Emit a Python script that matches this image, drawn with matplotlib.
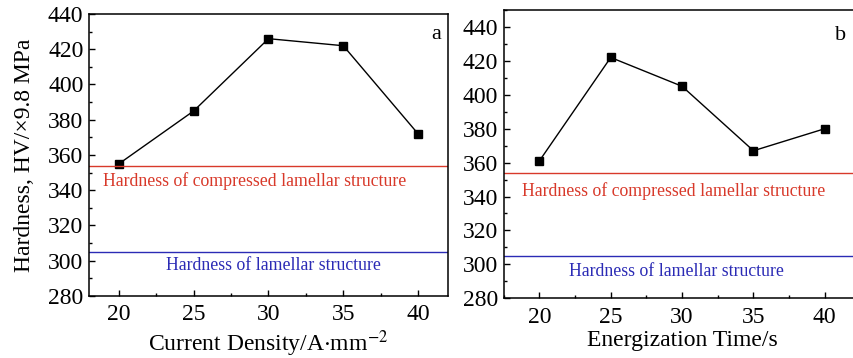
import matplotlib as mpl
mpl.use('Agg')
import matplotlib.pyplot as plt
from matplotlib.ticker import MultipleLocator

plt.rcParams['font.family'] = ['Liberation Serif', 'DejaVu Serif']
plt.rcParams['mathtext.fontset'] = 'stix'

# panel a
density = [20, 25, 30, 35, 40]
hard_a = [355, 385, 426, 422, 372]
# panel b
etime = [20, 25, 30, 35, 40]
hard_b = [361, 422, 405, 367, 380]

comp_level = 354
lam_level = 305
red = '#d8392a'
blue = '#2b2bb5'

fig = plt.figure(figsize=(8.54, 3.58), dpi=100)
ax1 = fig.add_axes([0.1042, 0.1732, 0.4204, 0.7877])
ax2 = fig.add_axes([0.5898, 0.1668, 0.4178, 0.8053])


def style(ax):
    ax.xaxis.set_major_locator(MultipleLocator(5))
    ax.xaxis.set_minor_locator(MultipleLocator(2.5))
    ax.yaxis.set_major_locator(MultipleLocator(20))
    ax.yaxis.set_minor_locator(MultipleLocator(10))
    ax.tick_params(which='both', direction='in', labelsize=17, width=1)
    ax.tick_params(which='major', length=4, pad=4)
    ax.tick_params(which='minor', length=2)
    ax.tick_params(axis='x', which='major', pad=6)
    for s in ax.spines.values():
        s.set_linewidth(1.1)


ax1.plot(density, hard_a, '-s', color='black', lw=1, ms=5.5)
ax1.axhline(comp_level, color=red, lw=1)
ax1.axhline(lam_level, color=blue, lw=1)
ax1.set_xlim(18, 42)
ax1.set_ylim(280, 440)
style(ax1)
ax1.text(29.1, 345.4, 'Hardness of compressed lamellar structure', color=red,
         fontsize=12.8, ha='center', va='center')
ax1.text(30.3, 297.2, 'Hardness of lamellar structure', color=blue,
         fontsize=12.8, ha='center', va='center')
ax1.text(0.98, 0.96, 'a', transform=ax1.transAxes, fontsize=16, ha='right', va='top')
ax1.set_xlabel('Current Density/A$\\cdot$mm$^{-2}$', fontsize=17, labelpad=2)
ax1.set_ylabel('Hardness, HV/×9.8 MPa', fontsize=17, labelpad=9)

ax2.plot(etime, hard_b, '-s', color='black', lw=1, ms=5.5)
ax2.axhline(comp_level, color=red, lw=1)
ax2.axhline(lam_level, color=blue, lw=1)
ax2.set_xlim(17.5, 42.5)
ax2.set_ylim(280, 450)
style(ax2)
ax2.text(29.4, 343, 'Hardness of compressed lamellar structure', color=red,
         fontsize=12.8, ha='center', va='center')
ax2.text(29.6, 295.7, 'Hardness of lamellar structure', color=blue,
         fontsize=12.8, ha='center', va='center')
ax2.text(0.96, 0.945, 'b', transform=ax2.transAxes, fontsize=16, ha='right', va='top')
ax2.set_xlabel('Energization Time/s', fontsize=17, labelpad=2)

fig.savefig('out.png', dpi=100)
